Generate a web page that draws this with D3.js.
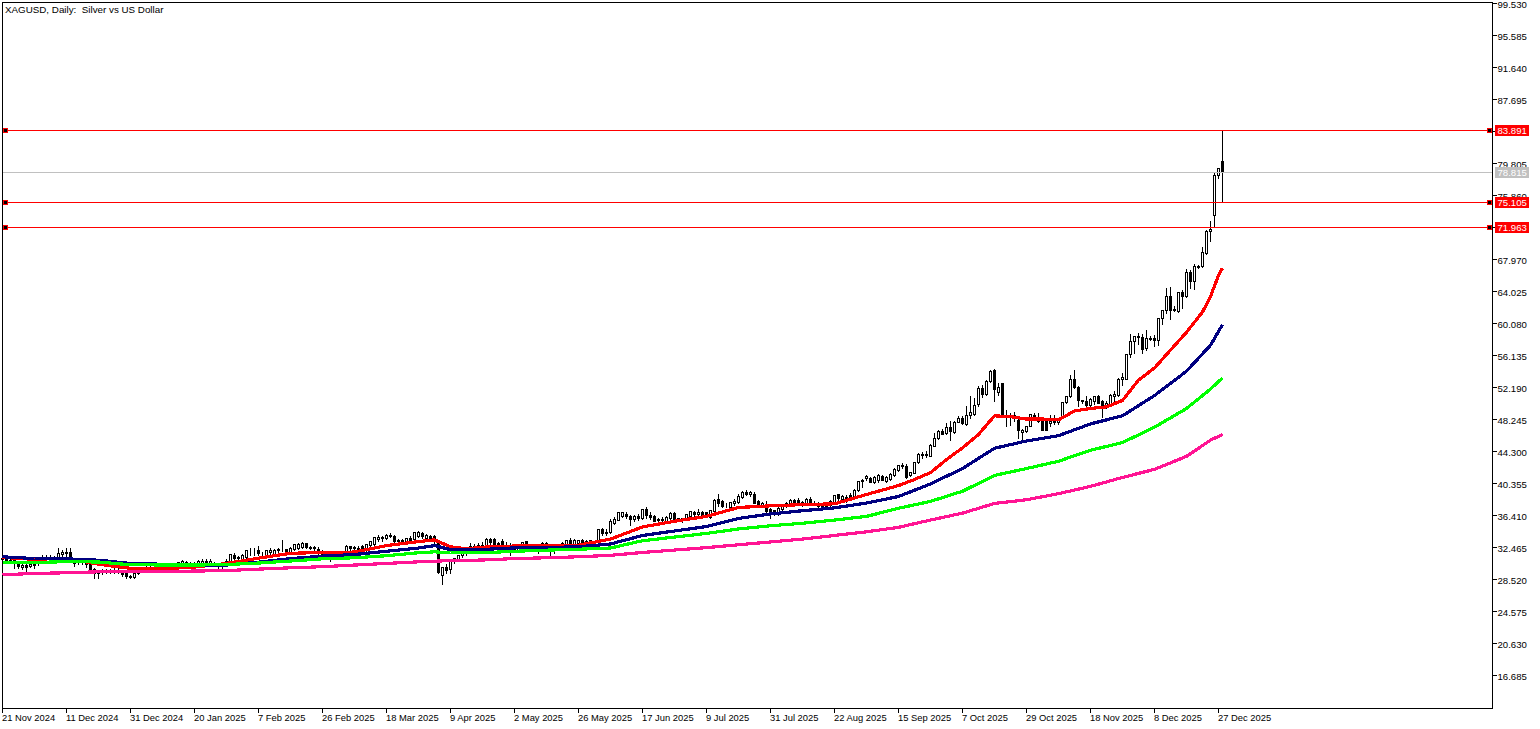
<!DOCTYPE html>
<html>
<head>
<meta charset="utf-8">
<title>XAGUSD, Daily</title>
<script src="https://cdn.jsdelivr.net/npm/d3@7"></script>
<style>
  html, body { margin: 0; padding: 0; background: #fff; overflow: hidden; }
  text { font-family: "Liberation Sans", sans-serif; font-size: 9.6px; fill: #000; white-space: pre; }
</style>
</head>
<body>
<svg id="chart" width="1540" height="729"></svg>
<script>
// chart title and axis labels
var chartTitle = "XAGUSD, Daily:  Silver vs US Dollar";
var priceTicks = [99.530, 95.585, 91.640, 87.695, 83.750, 79.805, 75.860, 71.915, 67.970, 64.025, 60.080,
  56.135, 52.190, 48.245, 44.300, 40.355, 36.410, 32.465, 28.520, 24.575, 20.630, 16.685];
var dateBars = [0, 16, 32, 48, 64, 80, 96, 112, 128, 144, 160, 176, 192, 208, 224, 240, 256, 272, 288, 304];
var dateLabels = ["21 Nov 2024", "11 Dec 2024", "31 Dec 2024", "20 Jan 2025", "7 Feb 2025", "26 Feb 2025",
  "18 Mar 2025", "9 Apr 2025", "2 May 2025", "26 May 2025", "17 Jun 2025", "9 Jul 2025", "31 Jul 2025",
  "22 Aug 2025", "15 Sep 2025", "7 Oct 2025", "29 Oct 2025", "18 Nov 2025", "8 Dec 2025", "27 Dec 2025"];

// horizontal levels, the last one is the current price
var levels = [83.891, 75.105, 71.963];
var lastPrice = 78.815;

// daily candles, ten bars to a line
var opens = [
  31.05,31.2,30.95,30.99,30.38,30.0,30.25,30.17,30.45,30.6,
  31.0,31.3,31.25,31.2,31.2,31.7,31.85,31.85,30.75,30.6,
  30.5,30.55,30.58,29.76,29.3,29.45,29.6,29.5,29.6,29.65,
  29.5,29.35,28.95,28.85,29.35,29.6,29.8,30.0,29.85,30.05,
  29.95,30.1,30.1,29.85,30.38,30.6,30.7,30.55,30.4,30.38,
  30.6,30.85,30.4,30.6,30.38,30.15,30.38,30.58,31.6,31.2,
  31.1,31.3,32.0,32.05,32.2,31.8,31.55,31.85,31.6,32.1,
  32.25,32.25,31.95,32.25,32.45,32.55,32.96,32.55,32.4,32.34,
  32.0,31.7,31.85,31.6,31.75,31.6,31.9,32.63,32.4,32.45,
  32.63,32.15,32.75,32.95,33.55,33.65,33.65,34.05,33.86,33.25,
  33.4,33.04,33.6,33.55,33.86,34.27,33.6,33.86,33.86,33.0,
  29.06,30.08,29.84,30.8,31.1,31.6,31.75,32.3,32.7,32.3,
  32.72,32.55,33.5,33.57,32.85,33.25,32.84,32.6,32.22,32.0,
  32.63,33.24,32.72,32.6,32.72,32.63,33.0,32.55,32.6,32.4,
  32.63,32.83,33.45,32.92,33.04,33.45,33.0,33.35,33.25,33.25,
  34.72,34.27,34.35,35.5,35.91,36.33,36.6,36.3,35.95,36.4,
  36.12,37.15,36.53,36.33,35.8,35.95,35.71,36.12,36.74,36.12,
  35.8,35.91,36.33,36.87,36.6,36.83,36.8,36.25,36.95,38.46,
  38.17,37.56,37.47,38.0,38.05,38.7,39.36,39.0,39.12,38.17,
  37.76,37.56,37.15,37.06,36.82,37.15,37.6,37.76,38.3,38.38,
  37.77,37.88,38.5,37.85,38.0,37.76,37.76,37.76,38.05,39.0,
  38.45,38.7,38.99,38.79,39.5,40.64,41.05,41.05,40.51,40.76,
  41.33,40.72,40.93,41.38,41.99,42.5,42.57,41.46,41.66,43.02,
  43.95,43.84,43.8,45.03,45.98,46.88,46.59,47.33,46.72,47.95,
  48.44,47.66,48.77,48.89,50.2,52.14,51.44,52.96,54.31,51.6,
  52.75,48.85,48.6,48.85,48.23,46.67,46.8,47.5,48.85,48.3,
  48.03,48.03,47.82,48.1,47.9,48.56,50.37,51.11,53.25,52.26,
  50.62,50.58,50.08,50.5,51.19,50.5,50.08,50.08,51.2,51.31,
  53.25,53.28,56.37,57.88,58.58,58.42,57.06,58.28,58.28,58.0,
  60.76,61.78,63.51,61.9,61.58,63.96,63.51,66.43,65.27,67.05,
  67.2,68.77,71.44,73.4,78.34,80.14];
var highs = [
  31.35,31.4,31.2,31.3,30.6,30.45,30.4,30.45,30.8,31.0,
  31.55,31.6,31.6,31.4,32.35,32.1,32.35,32.35,31.0,30.9,
  30.8,30.85,30.7,29.9,29.6,29.8,29.85,29.8,29.9,29.9,
  29.7,29.6,29.1,29.5,29.8,30.0,30.2,30.2,30.2,30.3,
  30.5,30.6,30.3,30.3,30.7,30.95,30.85,30.7,30.65,30.9,
  31.0,31.0,31.0,30.7,30.5,30.5,31.0,31.7,31.75,31.4,
  31.7,32.15,32.45,32.45,32.7,31.85,32.2,32.4,32.25,32.45,
  33.45,32.3,32.5,32.85,33.0,33.16,33.05,32.65,32.66,32.5,
  32.1,32.0,32.0,31.9,32.0,31.9,32.72,32.7,32.65,32.6,
  32.75,32.95,33.3,33.78,33.95,33.86,34.1,34.2,33.95,33.55,
  33.5,33.65,33.9,34.35,34.45,34.4,34.1,34.0,33.95,33.1,
  30.1,30.37,30.78,31.2,31.6,31.9,32.1,33.04,32.85,33.04,
  33.12,33.6,33.65,33.65,33.2,33.53,33.2,33.0,32.5,32.6,
  33.2,33.3,32.85,32.95,32.85,33.2,33.1,32.7,32.8,32.7,
  33.2,33.45,33.65,33.5,33.4,33.55,33.4,33.45,33.3,34.76,
  34.85,34.75,35.99,36.25,36.85,36.9,36.85,36.5,36.5,36.55,
  37.2,37.4,36.8,36.5,36.1,36.2,36.3,36.8,36.85,36.15,
  36.15,36.65,37.0,37.0,37.2,36.95,36.9,37.1,38.4,39.12,
  38.3,38.0,38.1,38.46,39.12,39.4,39.5,39.45,39.25,38.3,
  38.1,38.17,37.3,37.1,37.4,37.7,38.1,38.5,38.45,38.55,
  38.25,38.6,38.7,38.2,38.1,37.85,37.85,38.3,38.95,39.1,
  38.9,38.95,39.2,39.7,40.65,40.9,41.46,41.15,41.25,41.58,
  41.45,41.3,41.6,42.25,42.65,42.9,42.75,41.8,43.02,44.13,
  44.25,44.33,45.2,46.59,46.9,47.12,47.83,48.03,48.0,48.73,
  48.7,49.88,51.11,50.9,52.34,52.5,53.16,54.39,54.48,52.75,
  52.8,49.47,49.0,49.2,48.6,47.1,47.5,48.96,49.0,49.06,
  48.1,48.1,48.77,48.85,48.4,50.42,51.2,53.78,54.39,52.4,
  50.7,51.19,50.85,51.2,51.3,50.6,50.5,51.4,51.72,53.3,
  53.98,56.35,58.83,58.6,58.9,58.83,59.33,58.5,58.7,60.76,
  61.8,64.45,64.58,62.2,63.96,64.17,66.84,66.71,67.45,67.25,
  69.46,71.55,72.75,78.6,79.3,83.89];
var lows = [
  30.75,30.8,30.6,29.96,29.96,29.85,29.55,30.0,29.95,30.3,
  30.9,31.0,31.0,31.0,31.1,31.2,31.35,31.2,30.15,30.4,
  30.4,30.05,29.7,28.75,28.75,29.2,29.3,29.3,29.35,29.3,
  29.0,28.75,28.75,28.75,29.2,29.4,29.6,29.7,29.7,29.8,
  29.8,29.9,29.7,29.7,30.2,30.3,30.4,30.3,30.2,30.3,
  30.4,30.38,30.35,30.3,29.76,29.76,30.3,30.5,31.05,31.0,
  31.0,31.1,31.6,31.6,31.6,31.6,31.45,31.5,31.5,31.8,
  32.0,32.0,31.85,32.15,32.3,32.42,32.42,32.3,32.0,31.6,
  31.5,31.4,30.75,31.3,31.4,31.4,31.8,31.9,32.0,32.2,
  32.2,32.0,32.6,32.8,33.25,33.3,33.5,33.7,32.92,33.0,
  32.9,32.9,33.3,33.45,33.8,33.65,33.5,33.35,32.83,29.34,
  27.91,29.34,29.34,30.58,31.0,31.3,31.5,32.2,32.2,32.2,
  32.4,32.4,32.95,32.8,32.9,32.8,32.7,31.6,31.9,31.85,
  32.4,32.7,32.4,32.4,31.81,32.3,32.5,31.5,31.75,32.2,
  32.5,32.7,32.9,32.8,32.9,33.04,32.85,32.95,32.95,33.15,
  33.98,33.95,34.2,35.4,35.8,36.2,36.1,35.3,35.7,35.9,
  36.0,36.12,36.0,35.7,35.6,35.6,35.6,36.0,35.9,35.75,
  35.6,35.8,36.2,36.4,36.4,36.2,36.24,36.1,36.8,37.56,
  37.5,37.4,37.3,37.76,37.95,38.6,38.9,38.8,37.95,37.6,
  37.6,36.53,36.12,36.5,36.5,37.0,37.4,37.6,37.9,37.76,
  37.6,37.8,37.85,37.7,37.4,37.2,37.2,37.2,37.9,38.38,
  38.3,38.1,38.3,38.65,39.4,39.94,40.76,40.5,40.4,40.5,
  40.75,40.6,40.76,41.3,41.9,42.25,41.0,41.25,41.6,42.9,
  43.5,43.58,43.7,44.95,45.9,46.4,46.5,45.77,46.6,47.9,
  47.7,47.62,48.44,48.8,49.88,51.0,51.3,52.9,50.5,51.3,
  48.7,47.41,47.62,48.0,45.97,45.77,46.7,47.4,48.2,47.9,
  47.0,46.9,47.5,47.75,47.7,48.4,50.3,51.0,52.1,49.96,
  50.3,49.67,49.9,50.2,50.3,48.56,49.7,49.9,50.5,51.2,
  52.55,53.2,56.0,56.5,57.5,56.45,56.8,58.0,57.35,57.47,
  60.06,61.37,60.67,61.58,61.5,61.99,63.4,64.45,64.37,66.9,
  67.1,68.7,70.2,71.97,78.0,75.13];
var closes = [
  31.2,30.95,30.75,30.7,30.17,30.35,30.05,30.45,30.3,30.8,
  31.3,31.25,31.3,31.1,31.81,31.85,31.8,31.2,30.6,30.5,
  30.55,30.4,29.7,29.35,29.45,29.6,29.5,29.6,29.65,29.5,
  29.2,28.95,28.85,29.35,29.6,29.8,30.0,29.85,30.05,29.95,
  30.1,30.4,29.85,30.1,30.7,30.8,30.55,30.45,30.5,30.8,
  30.85,30.4,30.85,30.4,30.15,30.35,30.8,31.65,31.2,31.3,
  31.6,32.14,32.05,32.0,31.8,31.75,32.15,32.1,32.2,32.3,
  32.3,32.0,32.4,32.85,32.95,33.04,32.5,32.4,32.55,32.0,
  31.7,31.85,31.6,31.75,31.6,31.85,32.7,32.4,32.55,32.3,
  32.22,32.92,33.25,33.78,33.7,33.75,34.05,33.9,33.25,33.4,
  33.1,33.6,33.45,34.35,34.43,33.86,34.06,33.37,33.25,29.43,
  30.08,29.67,30.78,31.15,31.6,31.75,32.0,32.7,32.3,32.72,
  32.45,33.57,33.15,32.84,33.0,32.84,32.95,32.4,31.95,32.5,
  33.15,32.72,32.6,32.75,32.45,33.0,32.6,32.6,32.4,32.55,
  33.04,33.37,32.92,33.45,33.37,33.04,33.3,33.04,32.96,34.76,
  34.27,34.4,35.71,36.04,36.82,36.86,36.3,35.95,36.4,36.12,
  37.15,36.53,36.2,35.71,35.95,35.85,36.24,36.74,35.91,35.83,
  36.1,36.6,36.94,36.6,36.85,36.33,36.25,37.06,38.38,37.97,
  37.56,37.6,38.05,38.2,38.87,39.28,39.12,39.28,37.97,37.76,
  37.93,36.94,36.65,36.65,37.35,37.64,37.95,38.38,37.97,37.77,
  38.1,38.5,37.85,38.0,37.6,37.23,37.23,38.17,38.91,38.58,
  38.78,38.38,38.38,39.61,40.64,40.84,41.33,40.51,41.17,41.42,
  40.76,41.17,41.54,42.2,42.61,42.65,41.17,41.79,43.02,44.0,
  43.84,44.0,45.15,45.98,46.88,46.51,47.33,46.88,47.95,48.44,
  47.83,48.77,49.18,50.0,52.14,51.4,52.96,54.19,52.05,52.26,
  48.85,48.6,48.85,48.5,47.0,47.0,47.5,48.93,48.32,48.1,
  47.0,46.92,48.1,47.9,48.3,50.41,51.19,53.25,52.26,50.62,
  50.5,50.08,50.78,51.1,50.29,50.08,50.3,51.31,51.38,53.28,
  53.45,56.32,57.88,58.58,58.42,56.98,58.3,58.2,58.0,60.76,
  61.78,63.51,61.78,61.78,63.96,63.51,66.43,65.27,67.2,67.2,
  68.89,71.52,71.76,78.42,79.25,78.815];

// moving averages at the listed bars
var redBars = [0,8,16,24,32,40,48,56,64,72,80,88,96,104,108,112,116,120,128,136,144,152,160,168,176,184,192,200,208,216,224,228,232,236,240,244,248,252,256,260,264,268,272,276,280,284,288,292,296,300,302,304,305];
var redVals = [31.25,31.0,31.15,30.4,29.9,29.84,30.05,30.5,31.15,31.75,31.85,31.9,32.7,33.2,33.4,32.55,32.3,32.5,32.65,32.7,32.75,33.5,35.0,35.7,36.3,37.4,37.6,37.75,37.85,39.0,40.1,40.85,41.7,43.3,44.75,46.4,48.7,48.6,48.3,48.3,48.2,49.3,49.6,49.8,50.6,53.1,54.6,56.8,59.0,61.5,63.4,66.0,66.9];
var blueBars = [0,8,16,24,32,48,56,64,72,80,88,96,104,108,112,120,128,136,144,152,160,168,176,184,192,200,208,216,224,232,240,248,256,264,272,280,288,296,302,305];
var blueVals = [31.32,31.1,31.07,30.9,30.5,30.3,30.3,30.65,31.1,31.4,31.6,32.0,32.4,32.7,32.2,32.22,32.42,32.47,32.55,32.9,33.95,34.5,35.05,36.05,36.6,37.0,37.35,37.95,38.75,40.3,42.2,44.7,45.6,46.25,47.7,48.7,51.2,54.2,57.4,59.95];
var greenBars = [0,8,16,24,32,48,56,64,72,80,88,96,104,108,112,120,128,136,144,152,160,168,176,184,192,200,208,216,224,232,240,248,256,264,272,280,288,296,302,305];
var greenVals = [30.62,30.62,30.72,30.68,30.33,30.3,30.36,30.55,30.8,31.07,31.2,31.45,31.82,31.93,31.82,31.81,32.0,32.14,32.25,32.4,33.3,33.75,34.2,34.75,35.15,35.45,35.85,36.3,37.3,38.15,39.4,41.35,42.2,43.1,44.45,45.4,47.3,49.6,52.0,53.37];
var pinkBars = [0,8,16,24,40,56,64,72,80,88,96,104,112,120,128,136,144,152,160,168,176,184,192,200,208,216,224,232,240,248,256,264,272,280,288,296,302,305];
var pinkVals = [29.1,29.27,29.35,29.47,29.5,29.62,29.8,29.96,30.1,30.3,30.5,30.7,30.85,30.92,31.1,31.2,31.32,31.5,31.85,32.15,32.45,32.8,33.15,33.5,33.95,34.4,34.95,35.85,36.7,37.9,38.35,39.1,40.0,41.1,42.1,43.7,45.7,46.4];

var svg = d3.select("#chart");

// scales: 4 px a bar, 32 px between price ticks
var x = d3.scaleLinear().domain([0, 305]).range([2.5, 1222.5]);
var y = d3.scaleLinear().domain([99.53, 16.685]).range([3.5, 675.5]);
function py(v) { return Math.round(y(v)) + 0.5; }

// frame
svg.append("rect").attr("x", 2.5).attr("y", 2.5).attr("width", 1490).attr("height", 706)
  .attr("fill", "none").attr("stroke", "#000").attr("shape-rendering", "crispEdges");

// price axis on the right
var yAxis = d3.axisRight(y).tickValues(priceTicks).tickFormat(d3.format(".3f")).tickSize(4).tickSizeOuter(0).offset(0);
var gy = svg.append("g").attr("transform", "translate(1492.5,0)").call(yAxis);
gy.select(".domain").remove();
gy.selectAll("line").attr("stroke", "#000").attr("shape-rendering", "crispEdges");
gy.selectAll("text").attr("x", 5).attr("dy", "0.46em");

// time axis at the bottom
var xAxis = d3.axisBottom(x).tickValues(dateBars).tickFormat(function (d) { return dateLabels[dateBars.indexOf(d)]; })
  .tickSize(4).tickSizeOuter(0).offset(0);
var gx = svg.append("g").attr("transform", "translate(0,708.5)").call(xAxis);
gx.select(".domain").remove();
gx.selectAll("line").attr("stroke", "#000").attr("shape-rendering", "crispEdges");
gx.selectAll("text").attr("text-anchor", "start").attr("x", -0.5).attr("y", 12).attr("dy", 0).style("font-size", "9.4px");

// title
svg.append("text").attr("x", 5).attr("y", 13).style("font-size", "9.8px").text(chartTitle);

// candles
var candles = svg.append("g").attr("shape-rendering", "crispEdges");
opens.forEach(function (o, i) {
  var c = closes[i];
  candles.append("line")
    .attr("x1", x(i)).attr("x2", x(i))
    .attr("y1", py(highs[i]) - 0.5).attr("y2", py(lows[i]) + 0.5)
    .attr("stroke", "#000");
  var top = py(Math.max(o, c));
  var bottom = py(Math.min(o, c));
  candles.append("rect")
    .attr("x", x(i) - 1).attr("width", 2)
    .attr("y", top).attr("height", bottom - top)
    .attr("fill", c >= o ? "#fff" : "#000")
    .attr("stroke", "#000");
});

// moving averages, the order is the stacking order of the reference
var maLine = d3.line().x(function (d) { return x(d[0]); }).y(function (d) { return y(d[1]); });
[[redBars, redVals, "#ff0000"], [blueBars, blueVals, "#000080"],
 [greenBars, greenVals, "#00ff00"], [pinkBars, pinkVals, "#ff1493"]].forEach(function (ma) {
  svg.append("path")
    .attr("d", maLine(d3.zip(ma[0], ma[1])))
    .attr("fill", "none")
    .attr("stroke", ma[2])
    .attr("stroke-width", 3.2)
    .attr("stroke-linejoin", "round")
    .attr("shape-rendering", "crispEdges");
});

// last price line with its label
function priceLabel(v, color) {
  svg.append("rect").attr("x", 1495).attr("y", py(v) - 5.5).attr("width", 34).attr("height", 11)
    .attr("fill", color).attr("shape-rendering", "crispEdges");
  svg.append("text").attr("x", 1497.5).attr("y", py(v)).attr("dy", "0.36em")
    .style("fill", "#fff").text(d3.format(".3f")(v));
}
svg.append("line").attr("x1", 3).attr("x2", 1492).attr("y1", py(lastPrice)).attr("y2", py(lastPrice))
  .attr("stroke", "#c0c0c0").attr("shape-rendering", "crispEdges");
priceLabel(lastPrice, "#c0c0c0");

// red horizontal levels, anchor squares at both ends
levels.forEach(function (v) {
  svg.append("line").attr("x1", 3).attr("x2", 1492).attr("y1", py(v)).attr("y2", py(v))
    .attr("stroke", "#ff0000").attr("shape-rendering", "crispEdges");
  [5.5, 1489.5].forEach(function (ax) {
    svg.append("rect").attr("x", ax - 2).attr("y", py(v) - 2).attr("width", 4).attr("height", 4)
      .attr("fill", "#000").attr("stroke", "#ff0000").attr("shape-rendering", "crispEdges");
  });
  priceLabel(v, "#ff0000");
});
</script>
</body>
</html>
